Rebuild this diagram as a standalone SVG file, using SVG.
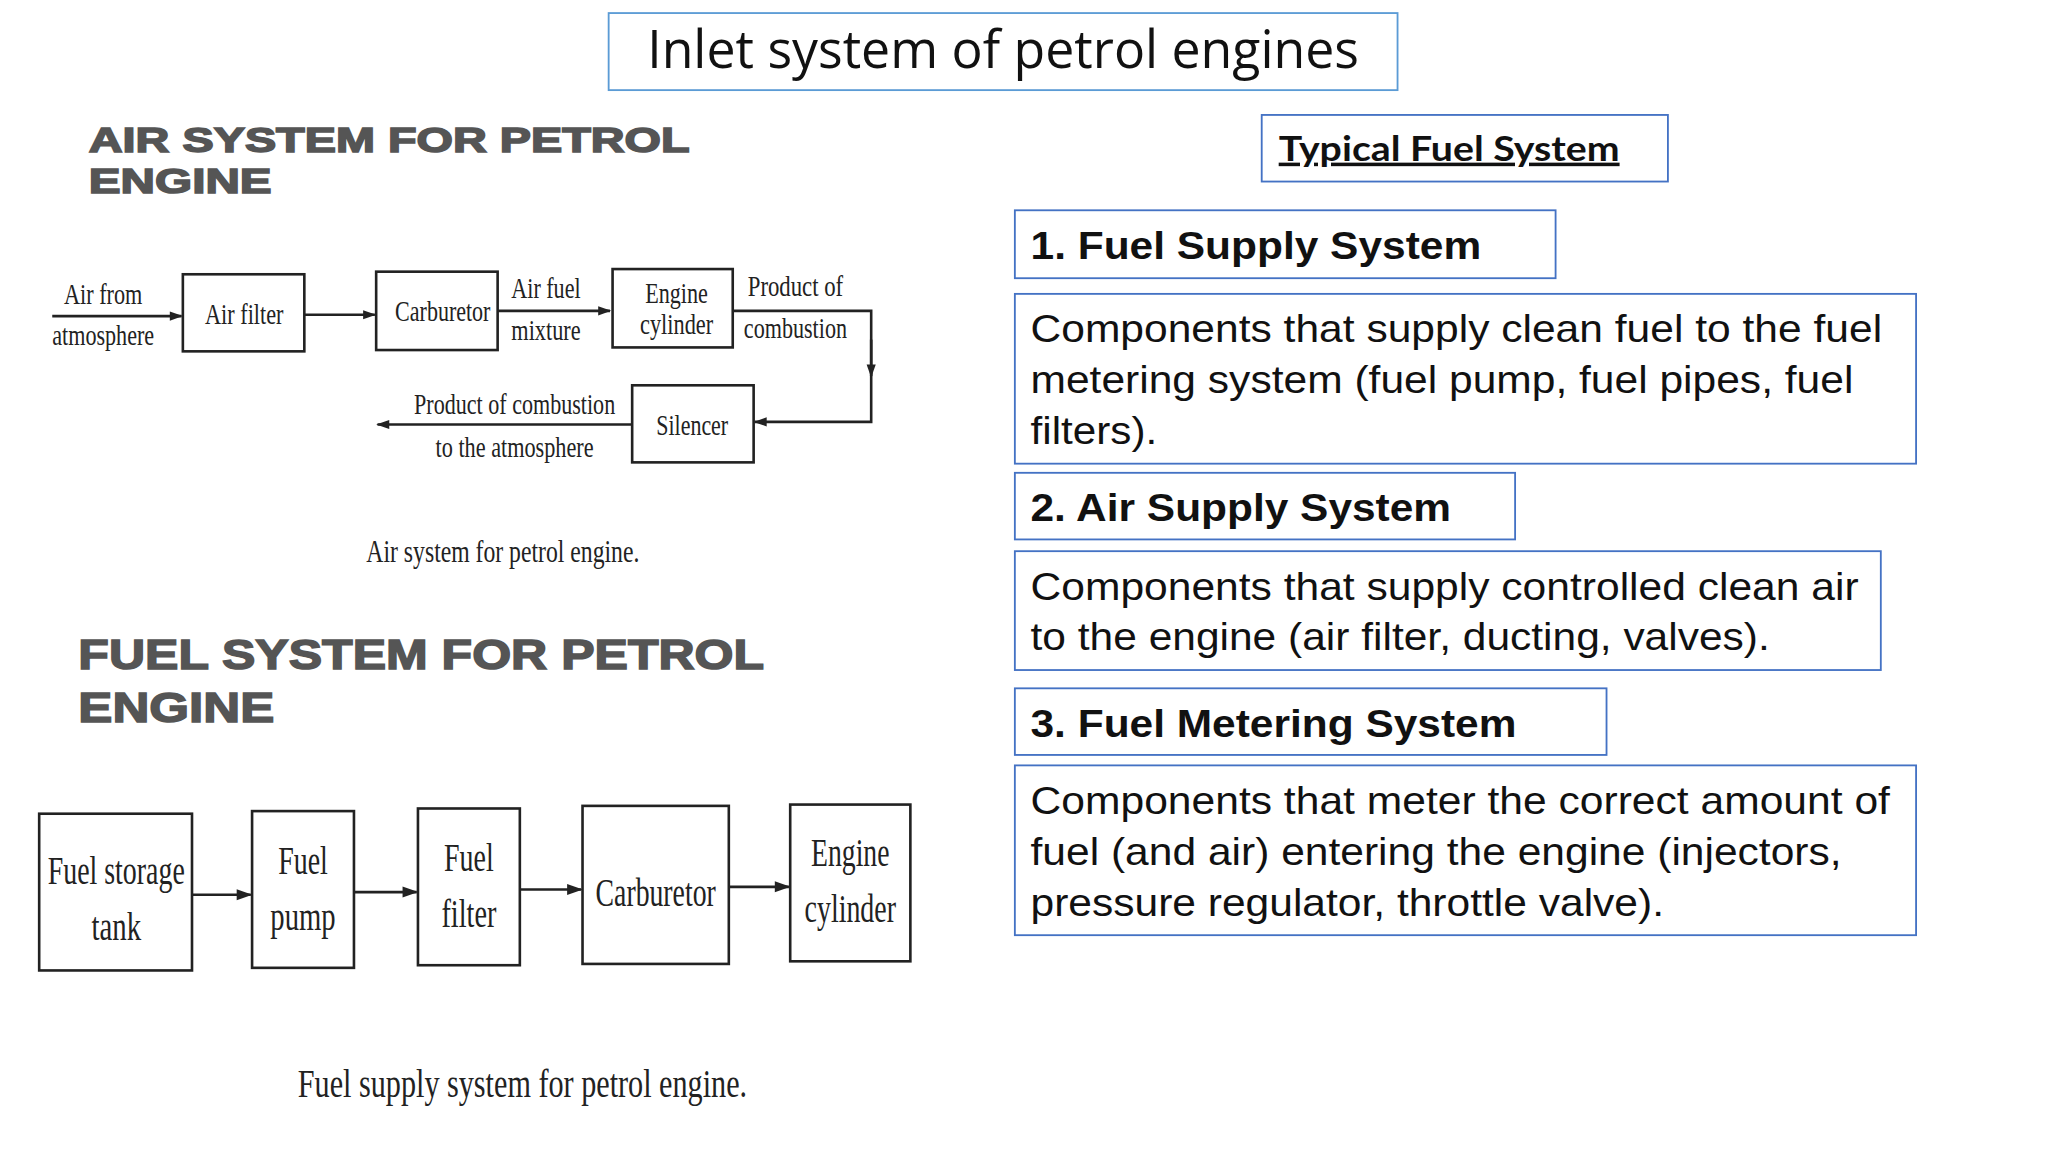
<svg xmlns="http://www.w3.org/2000/svg" width="2048" height="1152" viewBox="0 0 2048 1152">
<defs>
<marker id="ah" viewBox="0 0 10 10" refX="9" refY="5" markerWidth="12" markerHeight="10" orient="auto" markerUnits="userSpaceOnUse"><path d="M0,1.5 L10,5 L0,8.5 Z" fill="#222"/></marker>
<marker id="ah2" viewBox="0 0 10 10" refX="9" refY="5" markerWidth="13" markerHeight="12" orient="auto" markerUnits="userSpaceOnUse"><path d="M0,1.5 L10,5 L0,8.5 Z" fill="#222"/></marker>
</defs>
<style>
.bx{fill:none;stroke:#222;stroke-width:2}
.ln{fill:none;stroke:#222;stroke-width:2}
.sf{font-family:"Liberation Serif",serif;fill:#222;text-anchor:middle}
.hd{font-family:"Liberation Sans",Arial,sans-serif;font-weight:bold;fill:#555;stroke:#555;stroke-width:1.2}
.rb{fill:#fff;stroke:#4472c4;stroke-width:1.4}
.rt{font-family:"Liberation Sans",Arial,sans-serif;fill:#111;font-size:30px}
.rh{font-family:"Liberation Sans",Arial,sans-serif;fill:#111;font-size:30px;font-weight:bold}
</style>
<rect width="2048" height="1152" fill="#fff"/>
<g transform="scale(1.30612)">
<g id="title"><rect x="466" y="10" width="604" height="59" fill="#fff" stroke="#5b9bd5" stroke-width="1.4"/>
<text x="768" y="52" text-anchor="middle" font-family="'Open Sans',sans-serif" font-size="40" fill="#111" textLength="545" lengthAdjust="spacingAndGlyphs">Inlet system of petrol engines</text></g>

<g id="air-heading"><text class="hd" x="68" y="116" font-size="27" textLength="460" lengthAdjust="spacingAndGlyphs">AIR SYSTEM FOR PETROL</text>
<text class="hd" x="68" y="148" font-size="27" textLength="140" lengthAdjust="spacingAndGlyphs">ENGINE</text></g>

<g id="air-connectors">
<line class="ln" x1="40" y1="242" x2="139" y2="242" marker-end="url(#ah)"/>
<line class="ln" x1="233" y1="241" x2="287" y2="241" marker-end="url(#ah)"/>
<line class="ln" x1="381" y1="238" x2="467" y2="238" marker-end="url(#ah)"/>
<polyline class="ln" points="561,238 667,238 667,323 578,323" marker-end="url(#ah)"/>
<line class="ln" x1="667" y1="260" x2="667" y2="288" marker-end="url(#ah)"/>
<line class="ln" x1="484" y1="325" x2="289" y2="325" marker-end="url(#ah)"/>
</g>
<g id="air-labels">
<text class="sf" x="79" y="233" font-size="22" textLength="60" lengthAdjust="spacingAndGlyphs">Air from</text>
<text class="sf" x="79" y="264" font-size="22" textLength="78" lengthAdjust="spacingAndGlyphs">atmosphere</text>
<text class="sf" x="418" y="228" font-size="22" textLength="53" lengthAdjust="spacingAndGlyphs">Air fuel</text>
<text class="sf" x="418" y="260" font-size="22" textLength="53" lengthAdjust="spacingAndGlyphs">mixture</text>
<text class="sf" x="609" y="227" font-size="22" textLength="73" lengthAdjust="spacingAndGlyphs">Product of</text>
<text class="sf" x="609" y="259" font-size="22" textLength="79" lengthAdjust="spacingAndGlyphs">combustion</text>
<text class="sf" x="394" y="317" font-size="22" textLength="154" lengthAdjust="spacingAndGlyphs">Product of combustion</text>
<text class="sf" x="394" y="350" font-size="22" textLength="121" lengthAdjust="spacingAndGlyphs">to the atmosphere</text>
<text class="sf" x="385" y="430" font-size="24" textLength="209" lengthAdjust="spacingAndGlyphs">Air system for petrol engine.</text>
</g>
<g id="air-filter"><rect class="bx" x="140" y="210" width="93" height="59"/><text class="sf" x="187" y="248" font-size="22" textLength="60" lengthAdjust="spacingAndGlyphs">Air filter</text></g>
<g id="carburetor1"><rect class="bx" x="288" y="208" width="93" height="60"/><text class="sf" x="339" y="246" font-size="22" textLength="73" lengthAdjust="spacingAndGlyphs">Carburetor</text></g>
<g id="engine1"><rect class="bx" x="469" y="206" width="92" height="60"/><text class="sf" x="518" y="232" font-size="22" textLength="48" lengthAdjust="spacingAndGlyphs">Engine</text><text class="sf" x="518" y="256" font-size="22" textLength="56" lengthAdjust="spacingAndGlyphs">cylinder</text></g>
<g id="silencer"><rect class="bx" x="484" y="295" width="93" height="59"/><text class="sf" x="530" y="333" font-size="22" textLength="55" lengthAdjust="spacingAndGlyphs">Silencer</text></g>

<g id="fuel-heading"><text class="hd" x="60" y="512" font-size="33" textLength="525" lengthAdjust="spacingAndGlyphs">FUEL SYSTEM FOR PETROL</text>
<text class="hd" x="60" y="553" font-size="33" textLength="150" lengthAdjust="spacingAndGlyphs">ENGINE</text></g>

<g id="fuel-connectors">
<line class="ln" x1="147" y1="685" x2="192" y2="685" marker-end="url(#ah2)"/>
<line class="ln" x1="271" y1="683" x2="319" y2="683" marker-end="url(#ah2)"/>
<line class="ln" x1="398" y1="681" x2="445" y2="681" marker-end="url(#ah2)"/>
<line class="ln" x1="558" y1="679" x2="604" y2="679" marker-end="url(#ah2)"/>
</g>
<g id="tank"><rect class="bx" x="30" y="623" width="117" height="120"/><text class="sf" x="89" y="677" font-size="30" textLength="105" lengthAdjust="spacingAndGlyphs">Fuel storage</text><text class="sf" x="89" y="720" font-size="30" textLength="38" lengthAdjust="spacingAndGlyphs">tank</text></g>
<g id="pump"><rect class="bx" x="193" y="621" width="78" height="120"/><text class="sf" x="232" y="669" font-size="30" textLength="38" lengthAdjust="spacingAndGlyphs">Fuel</text><text class="sf" x="232" y="712" font-size="30" textLength="50" lengthAdjust="spacingAndGlyphs">pump</text></g>
<g id="filter"><rect class="bx" x="320" y="619" width="78" height="120"/><text class="sf" x="359" y="667" font-size="30" textLength="38" lengthAdjust="spacingAndGlyphs">Fuel</text><text class="sf" x="359" y="710" font-size="30" textLength="42" lengthAdjust="spacingAndGlyphs">filter</text></g>
<g id="carburetor2"><rect class="bx" x="446" y="617" width="112" height="121"/><text class="sf" x="502" y="694" font-size="30" textLength="92" lengthAdjust="spacingAndGlyphs">Carburetor</text></g>
<g id="engine2"><rect class="bx" x="605" y="616" width="92" height="120"/><text class="sf" x="651" y="663" font-size="30" textLength="60" lengthAdjust="spacingAndGlyphs">Engine</text><text class="sf" x="651" y="706" font-size="30" textLength="70" lengthAdjust="spacingAndGlyphs">cylinder</text></g>
<text class="sf" x="400" y="840" font-size="30" textLength="344" lengthAdjust="spacingAndGlyphs">Fuel supply system for petrol engine.</text>

<g id="typical"><rect class="rb" x="966" y="88" width="311" height="51"/><text x="979" y="123" font-family="Lato,sans-serif" font-weight="bold" font-size="27" fill="#111" text-decoration="underline" textLength="261" lengthAdjust="spacingAndGlyphs">Typical Fuel System</text></g>
<g id="h1"><rect class="rb" x="777" y="161" width="414" height="52"/><text class="rh" x="789" y="198" textLength="345" lengthAdjust="spacingAndGlyphs">1. Fuel Supply System</text></g>
<g id="d1"><rect class="rb" x="777" y="225" width="690" height="130"/>
<text class="rt" x="789" y="262" textLength="652" lengthAdjust="spacingAndGlyphs">Components that supply clean fuel to the fuel</text>
<text class="rt" x="789" y="301" textLength="630" lengthAdjust="spacingAndGlyphs">metering system (fuel pump, fuel pipes, fuel</text>
<text class="rt" x="789" y="340" textLength="97" lengthAdjust="spacingAndGlyphs">filters).</text></g>
<g id="h2"><rect class="rb" x="777" y="362" width="383" height="51"/><text class="rh" x="789" y="399" textLength="322" lengthAdjust="spacingAndGlyphs">2. Air Supply System</text></g>
<g id="d2"><rect class="rb" x="777" y="422" width="663" height="91"/>
<text class="rt" x="789" y="459" textLength="634" lengthAdjust="spacingAndGlyphs">Components that supply controlled clean air</text>
<text class="rt" x="789" y="498" textLength="566" lengthAdjust="spacingAndGlyphs">to the engine (air filter, ducting, valves).</text></g>
<g id="h3"><rect class="rb" x="777" y="527" width="453" height="51"/><text class="rh" x="789" y="564" textLength="372" lengthAdjust="spacingAndGlyphs">3. Fuel Metering System</text></g>
<g id="d3"><rect class="rb" x="777" y="586" width="690" height="130"/>
<text class="rt" x="789" y="623" textLength="658" lengthAdjust="spacingAndGlyphs">Components that meter the correct amount of</text>
<text class="rt" x="789" y="662" textLength="621" lengthAdjust="spacingAndGlyphs">fuel (and air) entering the engine (injectors,</text>
<text class="rt" x="789" y="701" textLength="485" lengthAdjust="spacingAndGlyphs">pressure regulator, throttle valve).</text></g>
</g>
</svg>
